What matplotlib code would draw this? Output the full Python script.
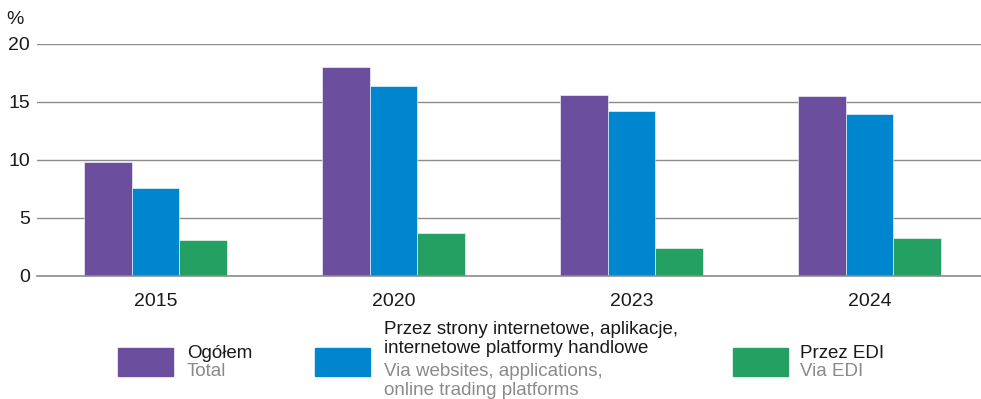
import matplotlib
matplotlib.use("Agg")
import matplotlib.pyplot as plt
from matplotlib.patches import Rectangle
import numpy as np

years = ["2015", "2020", "2023", "2024"]
total = [9.8, 18.0, 15.6, 15.5]
websites = [7.6, 16.4, 14.2, 14.0]
edi = [3.1, 3.7, 2.4, 3.3]
series = [total, websites, edi]
colors = ["#6B4F9E", "#0085CF", "#23A062"]
labels_pl = [["Ogółem"], ["Przez strony internetowe, aplikacje,", "internetowe platformy handlowe"], ["Przez EDI"]]
labels_en = [["Total"], ["Via websites, applications,", "online trading platforms"], ["Via EDI"]]
yticks = [0, 5, 10, 15, 20]

plt.rcParams['font.family'] = ['Liberation Sans', 'DejaVu Sans']
FS = 14
LFS = 13.5

W, H = 981, 399
fig = plt.figure(figsize=(W / 100, H / 100), dpi=100)
ax = fig.add_axes([37 / W, 1 - 276 / H, 1 - 37 / W, (276 - 44) / H])

x = np.arange(len(years))
bw = 0.2
for i, (vals, c) in enumerate(zip(series, colors)):
    ax.bar(x + (i - 1) * bw, vals, width=bw, color=c, edgecolor="#ffffff", linewidth=0.4, zorder=3)

ax.set_ylim(0, 20)
ax.set_xlim(-0.498, 3.468)
ax.set_yticks(yticks)
ax.set_xticks(x)
ax.set_xticklabels(years)
ax.tick_params(axis='both', length=0, labelsize=FS, colors="#1a1a1a")
ax.tick_params(axis='y', pad=5)
ax.tick_params(axis='x', pad=12)
ax.grid(axis='y', color="#8c8c8c", linewidth=1.0, zorder=0)
ax.axhline(0, color="#8c8c8c", linewidth=1.2, zorder=4, clip_on=False)
for s in ax.spines.values():
    s.set_visible(False)

fig.text(15 / W, 1 - 19 / H, "%", fontsize=FS, ha='center', va='center', color="#1a1a1a")

# legend
patch_x = [118, 315, 733]
text_x = [187, 384, 800]
pl_y = [[358], [334, 353], [358]]
en_y = [[376], [376, 395], [376]]
for i in range(3):
    fig.add_artist(Rectangle((patch_x[i] / W, 1 - 376 / H), 55 / W, 28 / H,
                             transform=fig.transFigure, color=colors[i]))
    for t, yy in zip(labels_pl[i], pl_y[i]):
        fig.text(text_x[i] / W, 1 - yy / H, t, fontsize=LFS, ha='left', va='baseline', color="#1a1a1a")
    for t, yy in zip(labels_en[i], en_y[i]):
        fig.text(text_x[i] / W, 1 - yy / H, t, fontsize=LFS, ha='left', va='baseline', color="#8a8a8a")

fig.savefig("out.png", dpi=100)
